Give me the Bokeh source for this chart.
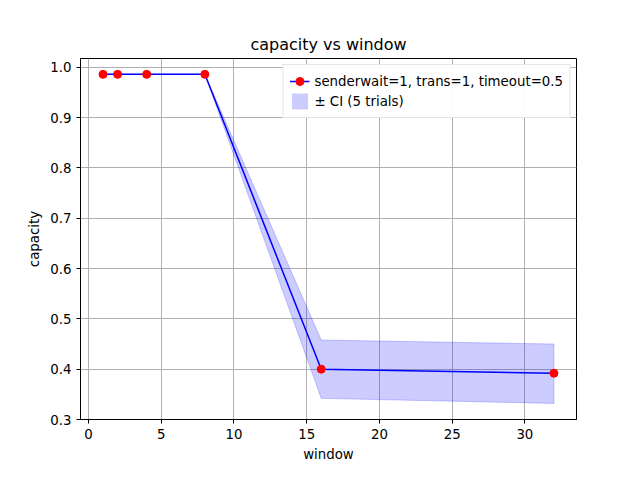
from bokeh.plotting import figure
from bokeh.models import Legend, LegendItem, Range1d, FixedTicker, NumeralTickFormatter
from bokeh.embed import file_html
from bokeh.resources import INLINE

window = [1, 2, 4, 8, 16, 32]
capacity = [0.986, 0.986, 0.986, 0.986, 0.400, 0.392]
ci_low = [0.986, 0.986, 0.986, 0.986, 0.342, 0.332]
ci_high = [0.986, 0.986, 0.986, 0.986, 0.458, 0.450]

p = figure(width=624, height=464, output_backend="svg", toolbar_location=None,
           title="capacity vs window",
           x_range=Range1d(-0.55, 33.55), y_range=Range1d(0.3, 1.0175),
           min_border_left=80, min_border_right=48, min_border_top=58, min_border_bottom=37)
p.title.align = "center"
p.title.text_font = "DejaVu Sans"
p.title.text_font_style = "normal"
p.title.text_font_size = "12pt"
p.title.text_color = "black"

band = p.varea(x=window, y1=ci_low, y2=ci_high, fill_color="blue", fill_alpha=0.2)
band_edge = p.line(x=window + window[::-1], y=ci_high + ci_low[::-1], line_color="blue", line_alpha=0.2)
ln = p.line(window, capacity, line_color="blue", line_width=1.5)
pts = p.scatter(window, capacity, size=8, fill_color="red", line_color="red")

p.xaxis.axis_label = "window"
p.yaxis.axis_label = "capacity"
p.xaxis.ticker = FixedTicker(ticks=[0, 5, 10, 15, 20, 25, 30])
p.yaxis.ticker = FixedTicker(ticks=[0.3, 0.4, 0.5, 0.6, 0.7, 0.8, 0.9, 1.0])
p.yaxis.formatter = NumeralTickFormatter(format="0.0")
for ax in (p.xaxis[0], p.yaxis[0]):
    ax.axis_label_text_font = "DejaVu Sans"
    ax.axis_label_text_font_style = "normal"
    ax.axis_label_text_font_size = "10pt"
    ax.axis_label_text_color = "black"
    ax.major_label_text_font = "DejaVu Sans"
    ax.major_label_text_font_size = "10pt"
    ax.major_label_text_color = "black"
    ax.minor_tick_line_color = None
    ax.major_tick_in = 0
    ax.major_tick_out = 4
p.grid.grid_line_color = "#b0b0b0"
p.grid.grid_line_alpha = 1.0
p.outline_line_color = "black"

legend = Legend(items=[
    LegendItem(label="senderwait=1, trans=1, timeout=0.5", renderers=[ln, pts]),
    LegendItem(label="± CI (5 trials)", renderers=[band]),
], location="top_right")
legend.label_text_font = "DejaVu Sans"
legend.label_text_font_size = "10pt"
legend.label_text_color = "black"
legend.border_line_color = "#cccccc"
legend.spacing = 0
legend.padding = 6
legend.margin = 6
p.add_layout(legend)

open("out.html", "w").write(file_html(p, INLINE))
